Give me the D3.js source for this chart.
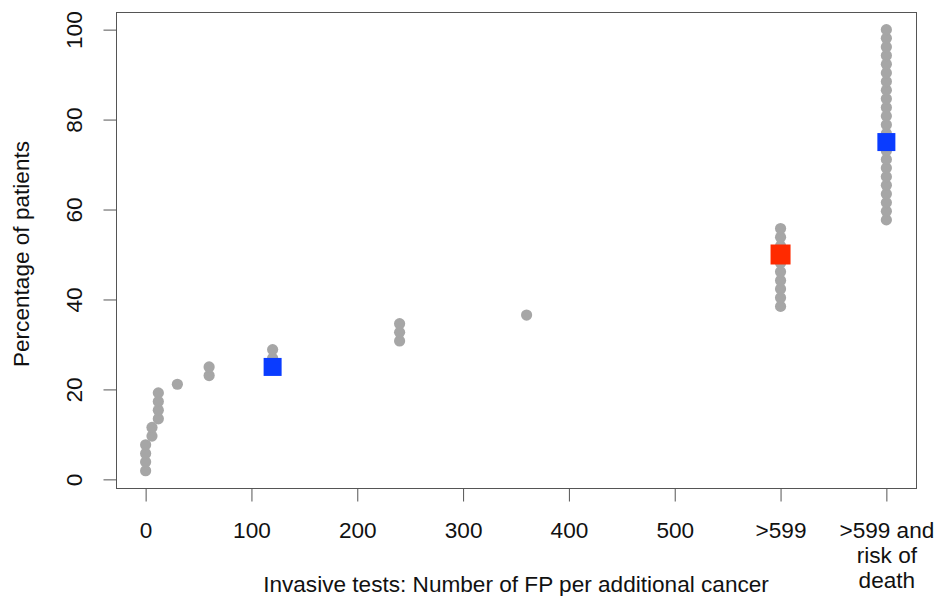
<!DOCTYPE html>
<html>
<head>
<meta charset="utf-8">
<script src="https://cdn.jsdelivr.net/npm/d3@7"></script>
<style>
	body { margin: 0; background: #fff; }
	svg text { font-family: "Liberation Sans", Arial, sans-serif; fill: #111; }
</style>
</head>
<body>
<div class="chart"></div>
<script>
	'use strict';

	// number of false positives per additional cancer, one value per patient
	var fpValues = [0, 0, 0, 0, 6, 6, 12, 12, 12, 12, 30, 60, 60, 120, 120, 240, 240, 240, 360,
		600, 600, 600, 600, 600, 600, 600, 600, 600, 600,
		700, 700, 700, 700, 700, 700, 700, 700, 700, 700, 700, 700, 700, 700, 700, 700, 700, 700, 700, 700, 700, 700, 700];
	// cumulative percentage of patients
	var pctValues = [1.92, 3.85, 5.77, 7.69, 9.62, 11.54, 13.46, 15.38, 17.31, 19.23, 21.15, 23.08, 25.00, 26.92, 28.85,
		30.77, 32.69, 34.62, 36.54,
		38.46, 40.38, 42.31, 44.23, 46.15, 48.08, 50.00, 51.92, 53.85, 55.77,
		57.69, 59.62, 61.54, 63.46, 65.38, 67.31, 69.23, 71.15, 73.08, 75.00, 76.92, 78.85, 80.77, 82.69,
		84.62, 86.54, 88.46, 90.38, 92.31, 94.23, 96.15, 98.08, 100.00];

	// quartile markers
	var quartileX = [120, 600, 700];
	var quartileY = [25, 50, 75];
	var quartileColors = ['#0a3cff', '#ff2a00', '#0a3cff'];
	var quartileSizes = [18, 20, 18];

	var xTickValues = [0, 100, 200, 300, 400, 500, 600, 700];
	var xTickLabels = ['0', '100', '200', '300', '400', '500', '>599', '>599 and\nrisk of\ndeath'];
	var yTickValues = [0, 20, 40, 60, 80, 100];

	var width = 938, height = 596;
	var box = { left: 116, right: 916, top: 12, bottom: 488 };
	var fontSize = 22.6;

	var svg = d3.select('.chart').append('svg').attr('width', width).attr('height', height);

	var x = d3.scaleLinear().domain([-28, 728]).range([box.left, box.right]);
	var y = d3.scaleLinear().domain([-1.92, 103.92]).range([box.bottom, box.top]);

	// plot frame
	svg.append('rect')
		.attr('x', box.left + 0.5).attr('y', box.top + 0.5)
		.attr('width', box.right - box.left).attr('height', box.bottom - box.top)
		.attr('fill', 'none').attr('stroke', '#555').attr('stroke-width', 1);

	// x axis
	var xAxis = d3.axisBottom(x).tickValues(xTickValues).tickSize(13).tickFormat('');
	var gx = svg.append('g').attr('transform', 'translate(0,' + (box.bottom + 0.5) + ')').call(xAxis);
	gx.select('.domain').remove();
	gx.selectAll('.tick line').attr('stroke', '#555');
	gx.selectAll('.tick').each(function(d, i) {
		var lines = xTickLabels[i].split('\n');
		var t = d3.select(this).append('text')
			.attr('text-anchor', 'middle')
			.attr('font-size', fontSize)
			.attr('y', 49);
		lines.forEach(function(l, j) {
			t.append('tspan').attr('x', 0).attr('dy', j === 0 ? 0 : 25.3).text(l);
		});
	});

	// y axis
	var yAxis = d3.axisLeft(y).tickValues(yTickValues).tickSize(13).tickFormat('');
	var gy = svg.append('g').attr('transform', 'translate(' + (box.left + 0.5) + ',0)').call(yAxis);
	gy.select('.domain').remove();
	gy.selectAll('.tick line').attr('stroke', '#555');
	gy.selectAll('.tick').append('text')
		.attr('transform', 'translate(-34.5,0) rotate(-90)')
		.attr('text-anchor', 'middle')
		.attr('font-size', fontSize)
		.text(function(d) { return d; });

	// gray patient dots
	svg.append('g').selectAll('circle')
		.data(fpValues)
		.enter().append('circle')
		.attr('cx', function(d) { return x(d); })
		.attr('cy', function(d, i) { return y(pctValues[i]); })
		.attr('r', 5.6)
		.attr('fill', '#a6a6a6');

	// quartile squares
	svg.append('g').selectAll('rect')
		.data(quartileX)
		.enter().append('rect')
		.attr('x', function(d, i) { return x(d) - quartileSizes[i] / 2; })
		.attr('y', function(d, i) { return y(quartileY[i]) - quartileSizes[i] / 2; })
		.attr('width', function(d, i) { return quartileSizes[i]; })
		.attr('height', function(d, i) { return quartileSizes[i]; })
		.attr('fill', function(d, i) { return quartileColors[i]; });

	// axis titles
	svg.append('text')
		.attr('x', (box.left + box.right) / 2).attr('y', 592)
		.attr('text-anchor', 'middle').attr('font-size', fontSize)
		.text('Invasive tests: Number of FP per additional cancer');

	svg.append('text')
		.attr('transform', 'translate(29,254) rotate(-90)')
		.attr('text-anchor', 'middle').attr('font-size', fontSize)
		.text('Percentage of patients');
</script>
</body>
</html>
